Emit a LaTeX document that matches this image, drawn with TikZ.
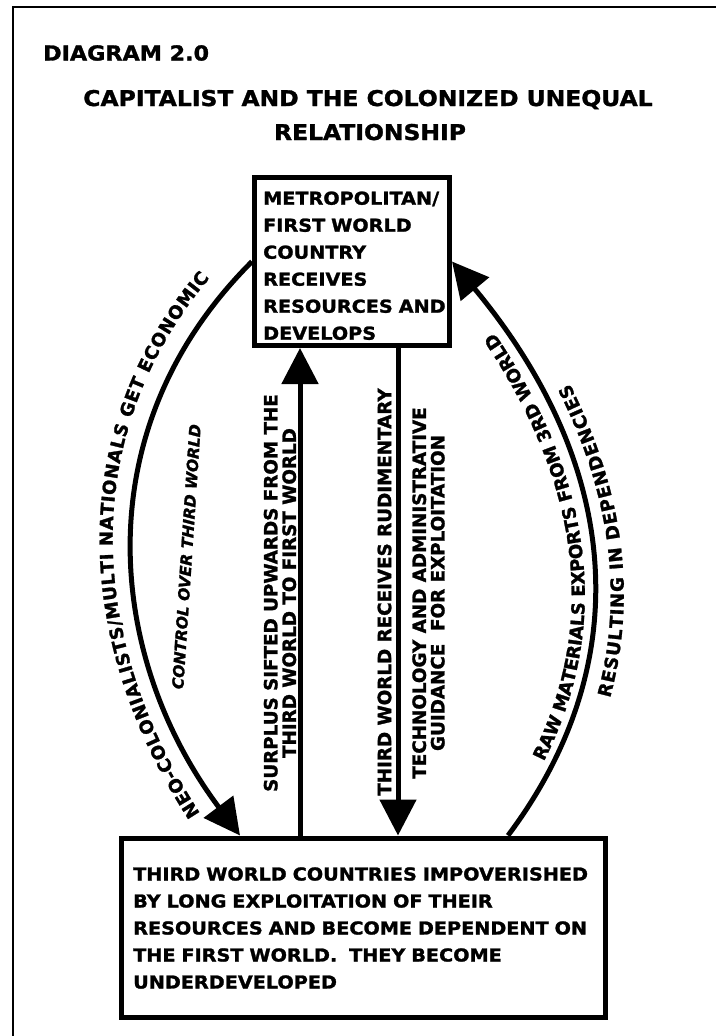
\documentclass[tikz,border=0pt]{standalone}
\usepackage{fontspec}
\setmainfont{DejaVu Sans}[FakeStretch=1.08, FakeBold=1.4]
\newfontfamily\labelfam{DejaVu Sans}[FakeBold=1.4]
\newcommand\arcfont{\labelfam\bfseries\fontsize{18}{18}\selectfont}
\usetikzlibrary{arrows.meta,decorations.text}
\begin{document}
\begin{tikzpicture}[x=1pt,y=1pt,
  box/.style={draw, line width=5pt, inner sep=0pt},
  flow/.style={line width=5pt, -{Triangle[length=36pt,width=36pt]}},
  boxtext/.style={anchor=base west, inner sep=0pt, align=left,
    font=\fontsize{17.8}{27}\selectfont\bfseries},
  rot/.style={rotate=90, inner sep=0pt, align=center,
    font=\labelfam\bfseries\fontsize{18.3}{18.5}\selectfont},
  arclabel/.style={decorate, decoration={text along path, text align=center, #1}}]
\useasboundingbox (0,0) rectangle (715,-1036);
\fill[white] (0,0) rectangle (715,-1036);
% page frame
\draw[line width=2pt] (13,-1045) -- (13,-7) -- (720,-7);

% headings
\node[anchor=base west, inner sep=0pt, font=\fontsize{20.6}{24}\selectfont\bfseries]
  (diag) at (43,-60.5) {DIAGRAM 2.0};
\node[anchor=base, inner sep=0pt, font=\fontsize{21.7}{26}\selectfont\bfseries]
  (title1) at (368,-106) {CAPITALIST AND THE COLONIZED UNEQUAL};
\node[anchor=base, inner sep=0pt, font=\fontsize{21.7}{26}\selectfont\bfseries]
  (title2) at (370,-140) {RELATIONSHIP};

% the two boxes
\node[box, minimum width=195pt, minimum height=168pt] (top) at (352,-261.5) {};
\node[boxtext, text width=185pt] (topText) at (263,-204.7)
  {METROPOLITAN/\\FIRST WORLD\\COUNTRY\\RECEIVES\\RESOURCES AND\\DEVELOPS};
\node[box, minimum width=484pt, minimum height=179pt] (bot) at (363,-927.5) {};
\node[boxtext, text width=470pt] (botText) at (133,-880.5)
  {THIRD WORLD COUNTRIES IMPOVERISHED\\BY LONG EXPLOITATION OF THEIR\\RESOURCES AND BECOME DEPENDENT ON\\THE FIRST WORLD.\ \ THEY BECOME\\UNDERDEVELOPED};

% straight flows
\coordinate (upx) at (300,0);
\coordinate (dnx) at (398,0);
\draw[flow] (bot.north -| upx) -- (top.south -| upx);
\draw[flow] (top.south -| dnx) -- (bot.north -| dnx);

% curved flows
\coordinate (leftEnd) at ([xshift=121.5pt]bot.north west);
\coordinate (rightStart) at ([xshift=389.5pt]bot.north west);
\draw[flow] (top.west) .. controls (83,-430) and (107,-658) .. (leftEnd);
\draw[flow] (rightStart) .. controls (638,-662) and (621,-465) .. (top.east);

% labels of the straight flows
\node[rot] (upLbl) at (280,-593)
  {SURPLUS SIFTED UPWARDS FROM THE\\THIRD WORLD TO FIRST WORLD};
\node[rot] (dnLbl1) at (384.5,-592) {THIRD WORLD RECEIVES RUDIMENTARY};
\node[rot] (dnLbl2) at (428.5,-593)
  {TECHNOLOGY AND ADMINISTRATIVE\\GUIDANCE\ \ FOR EXPLOITATION};

% labels along the curved flows
\path[arclabel={raise=20pt, text={|\arcfont|NEO-COLONIALISTS/MULTI NATIONALS GET ECONOMIC}}]
  (leftEnd) .. controls (107,-658) and (83,-430) .. (top.west);
\node[rotate=86.2, anchor=base, inner sep=0pt,
  font=\labelfam\bfseries\itshape\fontsize{15.5}{15.5}\selectfont]
  (ctrl) at (192,-557) {CONTROL OVER THIRD WORLD};
\path[arclabel={raise=9pt, text={|\arcfont|RAW MATERIALS EXPORTS FROM 3RD WORLD}}]
  (rightStart) .. controls (638,-662) and (621,-465) .. (top.east);
\path[arclabel={raise=-30pt, text={|\arcfont|RESULTING IN DEPENDENCIES}}]
  (rightStart) .. controls (638,-662) and (621,-465) .. (top.east);
\end{tikzpicture}
\end{document}
